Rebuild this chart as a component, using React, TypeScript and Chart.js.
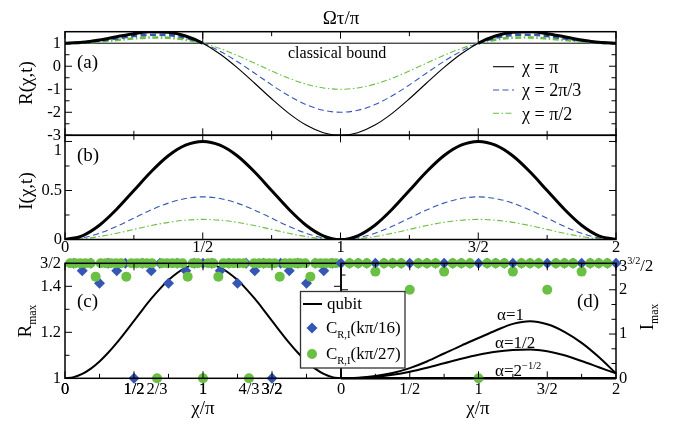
import React, { useEffect, useRef } from "react";
import { Chart, registerables } from "chart.js";
Chart.register(...registerables);

const W = 675;
const H = 424;
const SERIF = '"Liberation Serif", "Times New Roman", serif';
const BLUE = "#3556b2";
const GREEN = "#6abf45";

// ---------- panels (a) and (b): abscissa Ωτ/π ----------
const tau = [0, 0.0625, 0.125, 0.1875, 0.25, 0.3125, 0.375, 0.4375, 0.5, 0.5625, 0.625, 0.6875, 0.75, 0.8125, 0.875, 0.9375, 1, 1.0625, 1.125, 1.1875, 1.25, 1.3125, 1.375, 1.4375, 1.5, 1.5625, 1.625, 1.6875, 1.75, 1.8125, 1.875, 1.9375, 2];
const rPi = [1, 1.038, 1.141, 1.28, 1.414, 1.494, 1.472, 1.314, 1, 0.534, -0.058, -0.728, -1.414, -2.046, -2.555, -2.885, -3, -2.885, -2.555, -2.046, -1.414, -0.728, -0.058, 0.534, 1, 1.314, 1.472, 1.494, 1.414, 1.28, 1.141, 1.038, 1];
const r2Pi3 = [1, 1.028, 1.106, 1.21, 1.311, 1.37, 1.354, 1.236, 1, 0.65, 0.206, -0.296, -0.811, -1.284, -1.666, -1.914, -2, -1.914, -1.666, -1.284, -0.811, -0.296, 0.206, 0.65, 1, 1.236, 1.354, 1.37, 1.311, 1.21, 1.106, 1.028, 1];
const rPi2 = [1, 1.019, 1.07, 1.14, 1.207, 1.247, 1.236, 1.157, 1, 0.767, 0.471, 0.136, -0.207, -0.523, -0.777, -0.943, -1, -0.943, -0.777, -0.523, -0.207, 0.136, 0.471, 0.767, 1, 1.157, 1.236, 1.247, 1.207, 1.14, 1.07, 1.019, 1];
const iPi = [0, 0.038, 0.146, 0.309, 0.5, 0.691, 0.854, 0.962, 1, 0.962, 0.854, 0.691, 0.5, 0.309, 0.146, 0.038, 0, 0.038, 0.146, 0.309, 0.5, 0.691, 0.854, 0.962, 1, 0.962, 0.854, 0.691, 0.5, 0.309, 0.146, 0.038, 0];
const i2Pi3 = [0, 0.017, 0.064, 0.134, 0.218, 0.301, 0.371, 0.418, 0.435, 0.418, 0.371, 0.301, 0.218, 0.134, 0.064, 0.017, 0, 0.017, 0.064, 0.134, 0.218, 0.301, 0.371, 0.418, 0.435, 0.418, 0.371, 0.301, 0.218, 0.134, 0.064, 0.017, 0];
const iPi2 = [0, 0.008, 0.03, 0.063, 0.103, 0.142, 0.175, 0.197, 0.205, 0.197, 0.175, 0.142, 0.103, 0.063, 0.03, 0.008, 0, 0.008, 0.03, 0.063, 0.103, 0.142, 0.175, 0.197, 0.205, 0.197, 0.175, 0.142, 0.103, 0.063, 0.03, 0.008, 0];
const boundX = [0, 2];
const boundY = [1, 1];

// ---------- panel (c): R_max vs χ/π ----------
const chi16 = [0, 0.0625, 0.125, 0.1875, 0.25, 0.3125, 0.375, 0.4375, 0.5, 0.5625, 0.625, 0.6875, 0.75, 0.8125, 0.875, 0.9375, 1, 1.0625, 1.125, 1.1875, 1.25, 1.3125, 1.375, 1.4375, 1.5, 1.5625, 1.625, 1.6875, 1.75, 1.8125, 1.875, 1.9375, 2];
const qubitR = [1, 1.005, 1.019, 1.042, 1.073, 1.111, 1.154, 1.201, 1.25, 1.299, 1.346, 1.389, 1.427, 1.458, 1.481, 1.495, 1.5, 1.495, 1.481, 1.458, 1.427, 1.389, 1.346, 1.299, 1.25, 1.201, 1.154, 1.111, 1.073, 1.042, 1.019, 1.005, 1];
const chiC16 = [0.0625, 0.125, 0.1875, 0.25, 0.3125, 0.375, 0.4375, 0.5, 0.5625, 0.625, 0.6875, 0.75, 0.8125, 0.875, 0.9375, 1, 1.0625, 1.125, 1.1875, 1.25, 1.3125, 1.375, 1.4375, 1.5, 1.5625, 1.625, 1.6875, 1.75, 1.8125, 1.875, 1.9375];
const cR16 = [1.5, 1.468, 1.5, 1.413, 1.5, 1.468, 1.5, 1, 1.5, 1.468, 1.5, 1.413, 1.5, 1.468, 1.5, 1.5, 1.5, 1.468, 1.5, 1.413, 1.5, 1.468, 1.5, 1, 1.5, 1.468, 1.5, 1.413, 1.5, 1.468, 1.5];
const chi27 = [0.037, 0.074, 0.111, 0.148, 0.185, 0.222, 0.259, 0.296, 0.333, 0.37, 0.407, 0.444, 0.481, 0.519, 0.556, 0.593, 0.63, 0.667, 0.704, 0.741, 0.778, 0.815, 0.852, 0.889, 0.926, 0.963, 1, 1.037, 1.074, 1.111, 1.148, 1.185, 1.222, 1.259, 1.296, 1.333, 1.37, 1.407, 1.444, 1.481, 1.519, 1.556, 1.593, 1.63, 1.667, 1.704, 1.741, 1.778, 1.815, 1.852, 1.889, 1.926, 1.963];
const cR27 = [1.5, 1.5, 1.5, 1.5, 1.5, 1.442, 1.5, 1.5, 1.5, 1.5, 1.5, 1.442, 1.5, 1.5, 1.5, 1.5, 1.5, 1, 1.5, 1.5, 1.5, 1.5, 1.5, 1.442, 1.5, 1.5, 1, 1.5, 1.5, 1.442, 1.5, 1.5, 1.5, 1.5, 1.5, 1, 1.5, 1.5, 1.5, 1.5, 1.5, 1.442, 1.5, 1.5, 1.5, 1.5, 1.5, 1.442, 1.5, 1.5, 1.5, 1.5, 1.5];

// ---------- panel (d): I_max vs χ/π ----------
const cI16 = [2.598, 2.598, 2.598, 2.598, 2.598, 2.598, 2.598, 2.598, 2.598, 2.598, 2.598, 2.598, 2.598, 2.598, 2.598, 2.598, 2.598, 2.598, 2.598, 2.598, 2.598, 2.598, 2.598, 2.598, 2.598, 2.598, 2.598, 2.598, 2.598, 2.598, 2.598, 2.598, 2.598];
const chiD = [0.0625, 0.125, 0.1875, 0.25, 0.3125, 0.375, 0.4375, 0.5, 0.5625, 0.625, 0.6875, 0.75, 0.8125, 0.875, 0.9375, 1, 1.0625, 1.125, 1.1875, 1.25, 1.3125, 1.375, 1.4375, 1.5, 1.5625, 1.625, 1.6875, 1.75, 1.8125, 1.875, 1.9375];
const cI27 = [2.598, 2.598, 2.598, 2.41, 2.598, 2.598, 2.598, 2, 2.598, 2.598, 2.598, 2.41, 2.598, 2.598, 2.598, 0, 2.598, 2.598, 2.598, 2.41, 2.598, 2.598, 2.598, 2, 2.598, 2.598, 2.598, 2.41, 2.598, 2.598, 2.598];
const chi8 = [0, 0.125, 0.25, 0.375, 0.5, 0.625, 0.75, 0.875, 1, 1.125, 1.25, 1.375, 1.5, 1.625, 1.75, 1.875, 2];
const alpha1 = [0, 0.01, 0.05, 0.12, 0.23, 0.38, 0.56, 0.74, 0.91, 1.08, 1.23, 1.29, 1.22, 1.05, 0.8, 0.48, 0.11];
const alphaHalf = [0, 0.005, 0.03, 0.08, 0.15, 0.24, 0.34, 0.44, 0.53, 0.6, 0.64, 0.65, 0.61, 0.52, 0.39, 0.25, 0.11];
const alphaRoot = [0, 0, 0, 0, 0, 0, 0, 0, 0, 0, 0, 0, 0, 0, 0, 0, 0];

// ---------- tick positions and labels ----------
const tauTicks = [0, 0.25, 0.5, 0.75, 1, 1.25, 1.5, 1.75, 2];
const tauLabels: [number, string][] = [[0, "0"], [0.5, "1/2"], [1, "1"], [1.5, "3/2"], [2, "2"]];
const rTicks = [-3, -2.5, -2, -1.5, -1, -0.5, 0, 0.5, 1];
const rLabels: [number, string][] = [[-3, "-3"], [-2, "-2"], [-1, "-1"], [0, "0"], [1, "1"]];
const iTicks = [0, 0.25, 0.5, 0.75, 1];
const iLabels: [number, string][] = [[0, "0"], [0.5, "0.5"]];
const chiTicksC = [0, 0.25, 0.5, 0.75, 1, 1.25, 1.5, 1.75, 2];
const chiLabelVals = [0, 0.5, 0.6667, 1, 1.3333, 1.5];
const chiLabelsC: [number, string][] = [[0, "0"], [0.5, "1/2"], [0.6667, "2/3"], [1, "1"], [1.3333, "4/3"], [1.5, "3/2"]];
const rmaxTicks = [1, 1.1, 1.2, 1.3, 1.4, 1.5];
const rmaxLabels: [number, string][] = [[1, "1"], [1.2, "1.2"], [1.4, "1.4"], [1.5, "3/2"]];
const chiLabelsD: [number, string][] = [[0, "0"], [0.5, "1/2"], [1, "1"], [1.5, "3/2"], [2, "2"]];
const imaxTicks = [0, 0.3333, 0.6667, 1, 1.3333, 1.6667, 2, 2.3333];
const imaxLabels: [number, string][] = [[0, "0"], [1, "1"], [2, "2"]];

type Part = { t: string; k?: "sub" | "sup" };
type Area = { l: number; t: number; r: number; b: number };

function rich(ctx: any, parts: Part[], x: number, y: number, size: number, align = "left", rot = 0) {
  ctx.save();
  ctx.translate(x, y);
  if (rot) ctx.rotate(rot);
  ctx.fillStyle = "#000";
  ctx.textBaseline = "alphabetic";
  ctx.textAlign = "left";
  const fs = (p: Part) => (p.k ? size * 0.62 : size);
  let total = 0;
  const widths = parts.map((p) => {
    ctx.font = `${fs(p)}px ${SERIF}`;
    const w = ctx.measureText(p.t).width;
    total += w;
    return w;
  });
  let cx = align === "left" ? 0 : align === "center" ? -total / 2 : -total;
  const base = size * 0.35;
  parts.forEach((p, i) => {
    ctx.font = `${fs(p)}px ${SERIF}`;
    const dy = p.k === "sub" ? size * 0.3 : p.k === "sup" ? -size * 0.42 : 0;
    ctx.fillText(p.t, cx, base + dy);
    cx += widths[i];
  });
  ctx.restore();
}

function scale(pos: string, min: number, max: number, vals: number[], labels: [number, string][], pad: number, size: number) {
  const horiz = pos === "bottom" || pos === "top";
  return {
    type: "linear",
    position: pos,
    min,
    max,
    grid: { display: false, drawTicks: false },
    border: { display: false },
    ticks: {
      display: size > 0,
      autoSkip: false,
      maxRotation: 0,
      minRotation: 0,
      padding: pad,
      color: "#000",
      font: { family: SERIF, size: 16.5, lineHeight: 1 },
      callback: (v: number) => {
        const f = labels.find((l) => Math.abs(l[0] - v) < 1e-3);
        return f ? f[1] : "";
      },
    },
    afterBuildTicks: (s: any) => {
      s.ticks = vals.map((v) => ({ value: v }));
    },
    afterFit: (s: any) => {
      if (horiz) s.height = size;
      else s.width = size;
      s.paddingLeft = 0;
      s.paddingRight = 0;
      s.paddingTop = 0;
      s.paddingBottom = 0;
    },
  };
}

type TickSpec = { x: [number, boolean][]; y: [number, boolean][]; extra?: (ctx: any, chart: any) => void };

function framePlugin(id: string, spec: TickSpec) {
  return {
    id,
    afterDraw(chart: any) {
      const { ctx, chartArea: a, scales } = chart;
      const xs = scales.x;
      const ys = scales.y;
      ctx.save();
      ctx.strokeStyle = "#000";
      ctx.lineWidth = 1;
      ctx.beginPath();
      for (const [v, major] of spec.x) {
        const px = xs.getPixelForValue(v);
        const L = major ? 7 : 4.5;
        ctx.moveTo(px, a.top);
        ctx.lineTo(px, a.top + L);
        ctx.moveTo(px, a.bottom);
        ctx.lineTo(px, a.bottom - L);
      }
      for (const [v, major] of spec.y) {
        const py = ys.getPixelForValue(v);
        const L = major ? 7 : 4.5;
        ctx.moveTo(a.left, py);
        ctx.lineTo(a.left + L, py);
        ctx.moveTo(a.right, py);
        ctx.lineTo(a.right - L, py);
      }
      ctx.stroke();
      ctx.lineWidth = 1.5;
      ctx.strokeRect(a.left, a.top, a.right - a.left, a.bottom - a.top);
      if (spec.extra) spec.extra(ctx, chart);
      ctx.restore();
    },
  };
}

function opts(area: Area, xs: any, ys: any, xSize: number, ySize: number, yRight = false) {
  return {
    responsive: false,
    animation: false,
    events: [],
    layout: {
      padding: {
        left: area.l - (yRight ? 0 : ySize),
        top: area.t,
        right: W - area.r - (yRight ? ySize : 0),
        bottom: H - area.b - xSize,
      },
    },
    plugins: { legend: { display: false }, tooltip: { enabled: false } },
    scales: { x: xs, y: ys },
  };
}

const pts = (xs: number[], ys: number[]) => xs.map((x, i) => ({ x, y: ys[i] }));

const thickAbove = (thin: number, thick: number) => ({
  borderWidth: (c: any) => (c.p0.parsed.y >= 0.999 && c.p1.parsed.y >= 0.999 ? thick : thin),
});

function lineDs(data: any[], color: string, width: number, dash: number[] = [], extra: any = {}) {
  return {
    data,
    showLine: true,
    pointRadius: 0,
    borderColor: color,
    borderWidth: width,
    borderDash: dash,
    cubicInterpolationMode: "monotone",
    fill: false,
    ...extra,
  };
}

const DASH = [6, 3.5];
const DASHDOT = [6, 2.5, 1.5, 2.5];

const majorMinor = (vals: number[], isMajor: (v: number) => boolean): [number, boolean][] => vals.map((v) => [v, isMajor(v)]);
const isMult = (v: number, m: number) => Math.abs(v / m - Math.round(v / m)) < 1e-3;

function buildA(canvas: HTMLCanvasElement) {
  const area = { l: 65, t: 31.7, r: 616, b: 135.3 };
  const xs = scale("bottom", 0, 2, tauTicks, [], 0, 0);
  const ys = scale("left", -3, 1.5, rTicks, rLabels, 4, 45);
  return new Chart(canvas, {
    type: "scatter",
    data: {
      datasets: [
        lineDs(pts(tau, rPi), "#000", 1.1, [], { segment: thickAbove(1.1, 3) }),
        lineDs(pts(tau, r2Pi3), BLUE, 1.1, DASH, { segment: thickAbove(1.1, 2.6) }),
        lineDs(pts(tau, rPi2), GREEN, 1.1, DASHDOT, { segment: thickAbove(1.1, 2.6) }),
        lineDs(pts(boundX, boundY), "#000", 1, [], { cubicInterpolationMode: "default" }),
        lineDs(pts([0.5, 0.5], [1, 1.5]), "#000", 1, [], { cubicInterpolationMode: "default" }),
        lineDs(pts([1.5, 1.5], [1, 1.5]), "#000", 1, [], { cubicInterpolationMode: "default" }),
      ] as any,
    },
    options: opts(area, xs, ys, 0, 45) as any,
    plugins: [
      framePlugin("frameA", {
        x: majorMinor(tauTicks, (v) => isMult(v, 0.5)),
        y: majorMinor(rTicks, (v) => isMult(v, 1)),
        extra: (ctx) => {
          rich(ctx, [{ t: "Ωτ/π" }], 341, 17, 19, "center");
          rich(ctx, [{ t: "R(χ,t)" }], 25, 83, 19, "center", -Math.PI / 2);
          rich(ctx, [{ t: "(a)" }], 77, 61, 19, "left");
          rich(ctx, [{ t: "classical bound" }], 288, 52, 16, "left");
          const rows: [string, number[], string, number][] = [
            ["#000", [], "χ = π", 66.7],
            [BLUE, DASH, "χ = 2π/3", 90],
            [GREEN, DASHDOT, "χ = π/2", 113.3],
          ];
          for (const [col, dash, txt, y] of rows) {
            ctx.save();
            ctx.strokeStyle = col;
            ctx.lineWidth = 1.1;
            ctx.setLineDash(dash);
            ctx.beginPath();
            ctx.moveTo(493, y);
            ctx.lineTo(514, y);
            ctx.stroke();
            ctx.restore();
            rich(ctx, [{ t: txt }], 522, y, 18, "left");
          }
        },
      }),
    ],
  });
}

function buildB(canvas: HTMLCanvasElement) {
  const area = { l: 65, t: 135.3, r: 616, b: 239.5 };
  const xs = scale("bottom", 0, 2, tauTicks, tauLabels, 0, 22);
  const ys = scale("left", 0, 1.063, iTicks, iLabels, 3, 45);
  return new Chart(canvas, {
    type: "scatter",
    data: {
      datasets: [
        lineDs(pts(tau, iPi), "#000", 3),
        lineDs(pts(tau, i2Pi3), BLUE, 1.1, DASH),
        lineDs(pts(tau, iPi2), GREEN, 1.1, DASHDOT),
      ] as any,
    },
    options: opts(area, xs, ys, 22, 45) as any,
    plugins: [
      framePlugin("frameB", {
        x: majorMinor(tauTicks, (v) => isMult(v, 0.5)),
        y: majorMinor(iTicks, (v) => isMult(v, 0.5)),
        extra: (ctx, chart) => {
          rich(ctx, [{ t: "I(χ,t)" }], 25, 191, 19, "center", -Math.PI / 2);
          rich(ctx, [{ t: "(b)" }], 77, 154, 19, "left");
          const y1 = chart.scales.y.getPixelForValue(1);
          rich(ctx, [{ t: "1" }], 62, y1 + 8, 16.5, "right");
        },
      }),
    ],
  });
}

function buildC(canvas: HTMLCanvasElement) {
  const area = { l: 65, t: 263.3, r: 341, b: 378.3 };
  const xs = scale("bottom", 0, 2, [...chiTicksC, ...chiLabelVals].sort((p, q) => p - q), chiLabelsC, 3, 22);
  const ys = scale("left", 1, 1.5, rmaxTicks, rmaxLabels, 4, 45);
  return new Chart(canvas, {
    type: "scatter",
    data: {
      datasets: [
        { data: pts(chi27, cR27), pointStyle: "circle", pointRadius: 5, backgroundColor: GREEN, borderWidth: 0, clip: false },
        { data: pts(chiC16, cR16), pointStyle: "rectRot", pointRadius: 5.5, backgroundColor: BLUE, borderWidth: 0, clip: false },
        lineDs(pts(chi16, qubitR), "#000", 2),
      ] as any,
    },
    options: opts(area, xs, ys, 22, 45) as any,
    plugins: [
      framePlugin("frameC", {
        x: majorMinor(chiTicksC, (v) => isMult(v, 0.5)),
        y: majorMinor(rmaxTicks, (v) => isMult(v, 0.2)),
        extra: (ctx) => {
          rich(ctx, [{ t: "(c)" }], 77, 300, 19, "left");
          rich(ctx, [{ t: "R" }, { t: "max", k: "sub" }], 24, 321, 19, "center", -Math.PI / 2);
          rich(ctx, [{ t: "χ/π" }], 203, 407, 19, "center");
        },
      }),
    ],
  });
}

function buildD(canvas: HTMLCanvasElement) {
  const area = { l: 341, t: 263.3, r: 616, b: 378.3 };
  const xs = scale("bottom", 0, 2, tauTicks, chiLabelsD, 3, 22);
  const ys = scale("right", 0, 2.598, imaxTicks, imaxLabels, 3, 50);
  return new Chart(canvas, {
    type: "scatter",
    data: {
      datasets: [
        { data: pts(chiD, cI27), pointStyle: "circle", pointRadius: 5, backgroundColor: GREEN, borderWidth: 0, clip: false },
        { data: pts(chi16, cI16), pointStyle: "rectRot", pointRadius: 5.5, backgroundColor: BLUE, borderWidth: 0, clip: false },
        lineDs(pts(chi8, alpha1), "#000", 2),
        lineDs(pts(chi8, alphaHalf), "#000", 2),
        lineDs(pts(chi8, alphaRoot), "#000", 2.5, [], { clip: false }),
      ] as any,
    },
    options: opts(area, xs, ys, 22, 50, true) as any,
    plugins: [
      framePlugin("frameD", {
        x: majorMinor(tauTicks, (v) => isMult(v, 0.5)),
        y: majorMinor(imaxTicks, (v) => isMult(v, 1)),
        extra: (ctx, chart) => {
          rich(ctx, [{ t: "(d)" }], 577, 300, 19, "left");
          rich(ctx, [{ t: "I" }, { t: "max", k: "sub" }], 646, 317, 19, "center", -Math.PI / 2);
          rich(ctx, [{ t: "χ/π" }], 478, 407, 19, "center");
          rich(ctx, [{ t: "α=1" }], 497, 314, 17, "left");
          rich(ctx, [{ t: "α=1/2" }], 495, 342, 17, "left");
          rich(ctx, [{ t: "α=2" }, { t: "−1/2", k: "sup" }], 495, 370, 17, "left");
          const yTop = chart.scales.y.getPixelForValue(2.598);
          rich(ctx, [{ t: "3" }, { t: "3/2", k: "sup" }, { t: "/2" }], 619, yTop + 2, 16.5, "left");
          // legend box
          ctx.save();
          ctx.fillStyle = "#fff";
          ctx.fillRect(300.5, 291.5, 104.5, 76.5);
          ctx.strokeStyle = "#333";
          ctx.lineWidth = 1.3;
          ctx.strokeRect(300.5, 291.5, 104.5, 76.5);
          ctx.strokeStyle = "#000";
          ctx.lineWidth = 2;
          ctx.beginPath();
          ctx.moveTo(303, 304);
          ctx.lineTo(322, 304);
          ctx.stroke();
          ctx.fillStyle = BLUE;
          ctx.beginPath();
          ctx.moveTo(312, 322.5);
          ctx.lineTo(317.5, 328);
          ctx.lineTo(312, 333.5);
          ctx.lineTo(306.5, 328);
          ctx.closePath();
          ctx.fill();
          ctx.fillStyle = GREEN;
          ctx.beginPath();
          ctx.arc(312, 354, 5, 0, Math.PI * 2);
          ctx.fill();
          ctx.restore();
          rich(ctx, [{ t: "qubit" }], 327, 303, 17, "left");
          rich(ctx, [{ t: "C" }, { t: "R,I", k: "sub" }, { t: "(kπ/16)" }], 326, 327, 17, "left");
          rich(ctx, [{ t: "C" }, { t: "R,I", k: "sub" }, { t: "(kπ/27)" }], 326, 353, 17, "left");
        },
      }),
    ],
  });
}

export default function App() {
  const a = useRef<HTMLCanvasElement>(null);
  const b = useRef<HTMLCanvasElement>(null);
  const c = useRef<HTMLCanvasElement>(null);
  const d = useRef<HTMLCanvasElement>(null);
  useEffect(() => {
    const charts = [buildA(a.current!), buildB(b.current!), buildC(c.current!), buildD(d.current!)];
    return () => charts.forEach((ch) => ch.destroy());
  }, []);
  const st: React.CSSProperties = { position: "absolute", left: 0, top: 0 };
  return (
    <div style={{ position: "absolute", left: 0, top: 0, width: W, height: H, background: "#fff" }}>
      <canvas ref={a} width={W} height={H} style={st} />
      <canvas ref={b} width={W} height={H} style={st} />
      <canvas ref={c} width={W} height={H} style={st} />
      <canvas ref={d} width={W} height={H} style={st} />
    </div>
  );
}
